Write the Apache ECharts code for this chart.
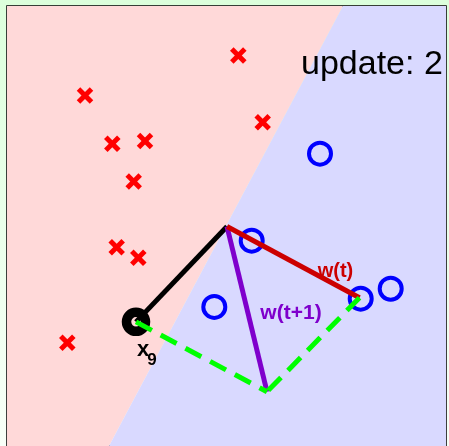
<!DOCTYPE html>
<html>
<head>
<meta charset="utf-8">
<script src="https://cdn.jsdelivr.net/npm/echarts@6/dist/echarts.min.js"></script>
<style>
  html, body { margin: 0; padding: 0; width: 449px; height: 446px; overflow: hidden;
    background: linear-gradient(#dcffdc, #f8fff8); }
  #chart { width: 449px; height: 446px; }
</style>
</head>
<body>
<div id="chart"></div>
<script>
// Plane extent (data units)
const xExtent = [-2.2, 2.19];
const yExtent = [-2.205, 2.215];

// Training samples: label -1 (crosses) and +1 (circles)
const negPoints = [
  [0.113, 1.718], [-1.42, 1.315], [0.357, 1.048], [-1.147, 0.832], [-0.82, 0.858],
  [-0.933, 0.452], [-1.103, -0.208], [-0.887, -0.315], [-1.597, -1.168]
];
const posPoints = [
  [0.93, 0.732], [0.247, -0.142], [-0.127, -0.808], [1.337, -0.725], [1.637, -0.625]
];

// Perceptron update step
const origin = [0, 0];
const sampleX9 = [-0.91, -0.958];
const wOld = [1.325, -0.715];
const wNew = [0.40, -1.66];

// Decision boundary of w(t) across the plane (top end, bottom end)
const boundary = [[1.16, 2.215], [-1.18, -2.205]];

const updateText = 'update: 2';

// Text labels: [x, y, text, colour, fontSize]
const labels = [
  [1.085, -0.455, 'w(t)', '#cc0000', 20],
  [0.64, -0.87, 'w(t+1)', '#7f00cc', 21],
  [-0.84, -1.235, 'x', '#000000', 22],
  [-0.75, -1.345, '9', '#000000', 17]
];

// Region polygons built from the boundary and the plane extent
const regions = [
  { color: '#ffd9d9', pts: [[xExtent[0], yExtent[1]], boundary[0], boundary[1], [xExtent[0], yExtent[0]]] },
  { color: '#d9d9ff', pts: [boundary[0], [xExtent[1], yExtent[1]], [xExtent[1], yExtent[0]], boundary[1]] }
];

const chart = echarts.init(document.getElementById('chart'), null, { renderer: 'canvas' });

function segment(a, b, color, z, dashed) {
  return {
    type: 'line', data: [a, b], symbol: 'none', silent: true, z: z,
    lineStyle: { color: color, width: 5, type: dashed ? [18, 10] : 'solid', cap: 'butt' },
    animation: false
  };
}

chart.setOption({
  backgroundColor: 'transparent',
  animation: false,
  grid: { left: 7, top: 6, right: 3, bottom: -2, show: true, borderColor: '#000', borderWidth: 1.5, backgroundColor: 'transparent' },
  xAxis: { type: 'value', min: xExtent[0], max: xExtent[1], show: false },
  yAxis: { type: 'value', min: yExtent[0], max: yExtent[1], show: false },
  graphic: [{
    type: 'text', left: 301, top: 48, z: 100,
    style: { text: updateText, font: '34px "Liberation Sans", Arial, sans-serif', fill: '#000' }
  }],
  series: [
    {
      type: 'custom', z: 1, silent: true,
      data: regions.map((r, i) => [i]),
      renderItem: function (params, api) {
        const r = regions[params.dataIndex];
        return {
          type: 'polygon',
          shape: { points: r.pts.map(p => api.coord(p)) },
          style: { fill: r.color, stroke: null }
        };
      }
    },
    {
      type: 'custom', z: 3, silent: true, data: negPoints,
      renderItem: function (params, api) {
        const c = api.coord([api.value(0), api.value(1)]);
        const h = 6.5;
        const st = { stroke: '#ff0000', lineWidth: 5 };
        return {
          type: 'group', children: [
            { type: 'line', shape: { x1: c[0] - h, y1: c[1] - h, x2: c[0] + h, y2: c[1] + h }, style: st },
            { type: 'line', shape: { x1: c[0] - h, y1: c[1] + h, x2: c[0] + h, y2: c[1] - h }, style: st }
          ]
        };
      }
    },
    {
      type: 'scatter', z: 3, silent: true, data: posPoints, symbol: 'circle', symbolSize: 22,
      itemStyle: { color: 'transparent', borderColor: '#0000ff', borderWidth: 4, opacity: 1 }
    },
    {
      type: 'scatter', z: 4, silent: true, data: [sampleX9], symbol: 'circle', symbolSize: 19,
      itemStyle: { color: 'transparent', borderColor: '#000000', borderWidth: 9.5, opacity: 1 }
    },
    segment(origin, sampleX9, '#000000', 5, false),
    segment(origin, wNew, '#7f00cc', 5, false),
    segment(origin, wOld, '#cc0000', 6, false),
    segment(sampleX9, wNew, '#00ff00', 7, true),
    segment(wOld, wNew, '#00ff00', 7, true),
    {
      type: 'custom', z: 8, silent: true, data: labels,
      renderItem: function (params, api) {
        const l = labels[params.dataIndex];
        const c = api.coord([l[0], l[1]]);
        return {
          type: 'text', x: c[0], y: c[1],
          style: {
            text: l[2], fill: l[3], align: 'center', verticalAlign: 'middle',
            font: 'bold ' + l[4] + 'px "Liberation Sans", Arial, sans-serif'
          }
        };
      }
    }
  ]
});
</script>
</body>
</html>
